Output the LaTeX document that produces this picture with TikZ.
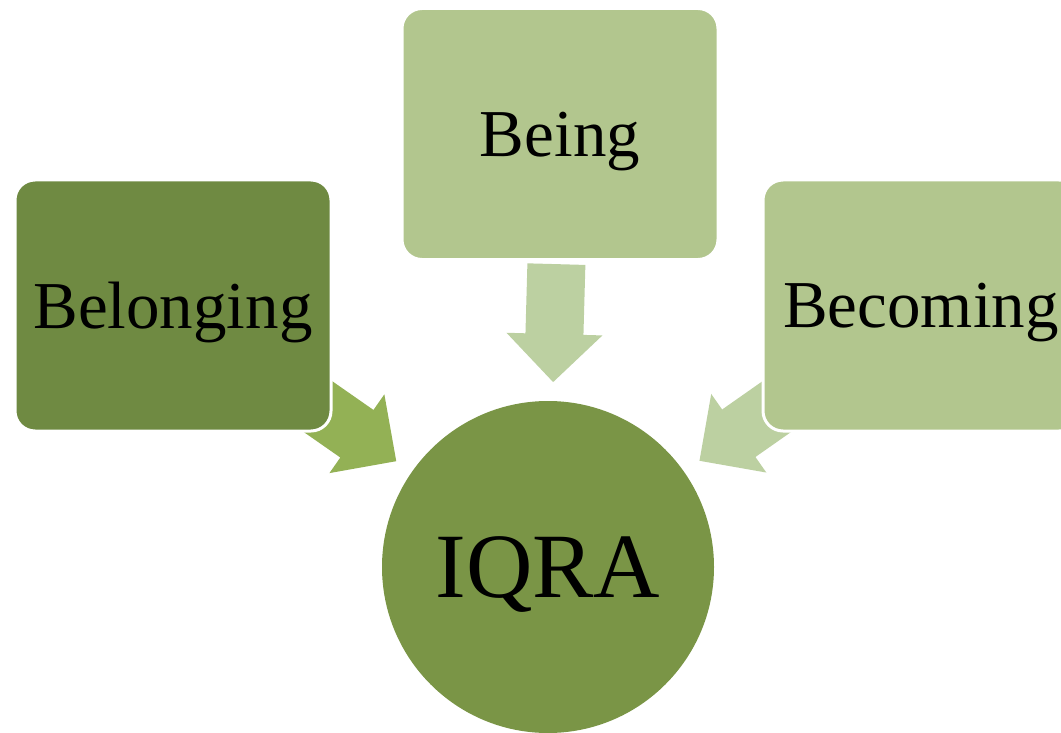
\documentclass[tikz,border=0pt]{standalone}
\usepackage{fontspec}
\setmainfont{Liberation Serif}
\usetikzlibrary{calc, backgrounds}

\definecolor{belongfill}{HTML}{6F8A42}
\definecolor{softfill}{HTML}{B2C68E}
\definecolor{hubfill}{HTML}{7A9546}
\definecolor{darkarrow}{HTML}{93B155}
\definecolor{lightarrow}{HTML}{BCD0A1}

\begin{document}
\begin{tikzpicture}[
    x=1pt, y=-1pt,
    box/.style={rectangle, rounded corners=20pt, draw=white, line width=3pt, minimum width=316pt, minimum height=251pt, inner sep=0pt, text depth=0pt, font=\fontsize{67}{80}\selectfont},
    hub/.style={circle, fill=hubfill, minimum size=332pt, inner sep=0pt, text depth=0pt, font=\fontsize{92}{100}\selectfont},
    blockarrow/.style={fill=#1, draw=none}
]

% Canvas
\clip (0,0) rectangle (1061,733);

% Centre
\node[hub] (iqra) at (548,567) {IQRA};

% Three boxes
\node[box, fill=belongfill] (belonging) at (173,305.5) {Belonging};
\node[box, fill=softfill] (being) at (560,134) {Being};
\node[box, fill=softfill] (becoming) at (921,305.5) {Becoming};

% Block arrows, each pointing from its box to the centre
\begin{scope}[on background layer]
\foreach \src/\col in {belonging/darkarrow, being/lightarrow, becoming/lightarrow} {
    \coordinate (\src-tip) at ($(iqra)!185pt!(\src)$);
    \coordinate (\src-base) at ($(iqra)!233pt!(\src)$);
    \coordinate (\src-tail) at ($(iqra)!303pt!(\src)$);
    \fill[blockarrow=\col]
        ($(\src-tail)!29pt!90:(\src-tip)$) -- ($(\src-base)!29pt!90:(\src-tip)$)
        -- ($(\src-base)!48pt!90:(\src-tip)$) -- (\src-tip)
        -- ($(\src-base)!48pt!-90:(\src-tip)$) -- ($(\src-base)!29pt!-90:(\src-tip)$)
        -- ($(\src-tail)!29pt!-90:(\src-tip)$) -- cycle;
}
\end{scope}

\end{tikzpicture}
\end{document}
